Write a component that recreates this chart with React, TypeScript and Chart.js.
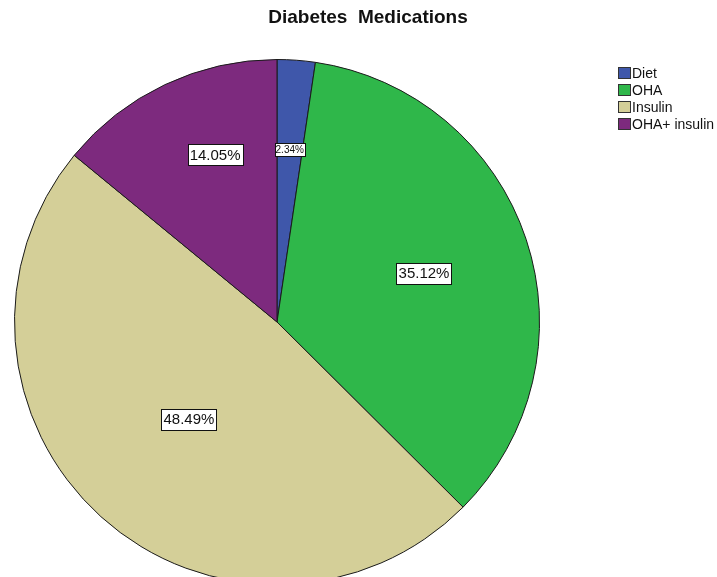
import { useEffect, useRef } from "react";
import { Chart, registerables } from "chart.js";
Chart.register(...registerables);

const categories = ["Diet", "OHA", "Insulin", "OHA+ insulin"];
const percentages = [2.34, 35.12, 48.49, 14.05];
const colors = ["#3F57AA", "#2FB74A", "#D4CF98", "#7D2A7E"];
const titleText = "Diabetes  Medications";

const labelRadius = [0.66, 0.59, 0.5, 0.68];
const labelAngleShift = [0, 0, 0, 5];
const labelFontSize = [10, 15, 15, 15];

const FONT = "Arial, 'Liberation Sans', sans-serif";

const overlayPlugin = {
  id: "overlay",
  afterDatasetsDraw(chart: any) {
    const ctx: CanvasRenderingContext2D = chart.ctx;
    const meta = chart.getDatasetMeta(0);
    ctx.save();
    meta.data.forEach((arc: any, i: number) => {
      const p = arc.getProps(["x", "y", "startAngle", "endAngle", "outerRadius"], true);
      const mid = (p.startAngle + p.endAngle) / 2 + (labelAngleShift[i] * Math.PI) / 180;
      const r = p.outerRadius * labelRadius[i];
      const cx = p.x + Math.cos(mid) * r;
      const cy = p.y + Math.sin(mid) * r;
      const fs = labelFontSize[i];
      ctx.font = `${fs}px ${FONT}`;
      const text = percentages[i].toFixed(2) + "%";
      const w = Math.round(ctx.measureText(text).width + (fs > 12 ? 4 : 2));
      const h = Math.round(fs + (fs > 12 ? 6 : 3));
      const bx = Math.round(cx - w / 2) + 0.5;
      const by = Math.round(cy - h / 2) + 0.5;
      ctx.fillStyle = "#ffffff";
      ctx.fillRect(bx, by, w, h);
      ctx.strokeStyle = "#111111";
      ctx.lineWidth = 1;
      ctx.strokeRect(bx, by, w, h);
      ctx.fillStyle = "#111111";
      ctx.textAlign = "center";
      ctx.textBaseline = "middle";
      ctx.fillText(text, cx, cy + 1);
    });
    // title
    ctx.font = `bold 19px ${FONT}`;
    ctx.fillStyle = "#111111";
    ctx.textAlign = "center";
    ctx.textBaseline = "middle";
    ctx.fillText(titleText, 368, 18);
    // legend
    const lx = 618;
    const ly = 67;
    const step = 17;
    ctx.font = `14px ${FONT}`;
    ctx.textAlign = "left";
    categories.forEach((c, i) => {
      const y = ly + i * step;
      ctx.fillStyle = colors[i];
      ctx.fillRect(lx + 0.5, y + 0.5, 12, 11);
      ctx.strokeStyle = "#333333";
      ctx.strokeRect(lx + 0.5, y + 0.5, 12, 11);
      ctx.fillStyle = "#111111";
      ctx.fillText(c, lx + 14, y + 7);
    });
    ctx.restore();
  },
};

export default function App() {
  const ref = useRef<HTMLCanvasElement | null>(null);
  useEffect(() => {
    if (!ref.current) return;
    const chart = new Chart(ref.current, {
      type: "pie",
      data: {
        labels: categories,
        datasets: [
          {
            data: percentages,
            backgroundColor: colors,
            borderColor: "#1a1a1a",
            borderWidth: 1,
          },
        ],
      },
      options: {
        responsive: false,
        animation: false,
        events: [],
        layout: { padding: { left: 14, top: 59, right: 177, bottom: 15 } },
        plugins: {
          legend: { display: false },
          tooltip: { enabled: false },
          title: { display: false },
        },
      },
      plugins: [overlayPlugin],
    });
    return () => chart.destroy();
  }, []);
  return (
    <div style={{ position: "fixed", left: 0, top: 0, width: 717, height: 577, overflow: "hidden", background: "#fff" }}>
      <canvas ref={ref} width={717} height={600} style={{ display: "block", width: 717, height: 600 }} />
    </div>
  );
}
